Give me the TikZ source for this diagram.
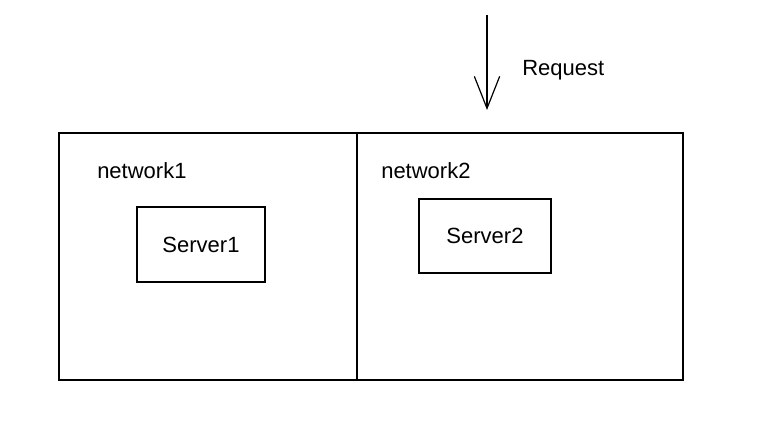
\documentclass[tikz,border=0pt]{standalone}
\usepackage{fontspec}
\setmainfont{Liberation Sans}
\usetikzlibrary{positioning,arrows.meta}

\begin{document}
\begin{tikzpicture}[x=0.75pt, y=-0.75pt, font=\fontsize{16.5}{19}\selectfont,
  box/.style={draw, line width=0.9pt, inner sep=0pt},
  lbl/.style={anchor=west, inner sep=0pt},
  sig/.style={-{Straight Barb[length=24pt, width=19pt, line width=0.9pt]}, line width=0.9pt}]
\useasboundingbox (0,0) rectangle (771,431);
\node[box, minimum width=223.5pt, minimum height=185.25pt] (net1) at (208,256.5) {};
\node[box, minimum width=244.5pt, minimum height=185.25pt] (net2) at (520,256.5) {};
\node[box, minimum width=96pt, minimum height=56.25pt] (srv1) at (201,244.5) {Server1};
\node[box, minimum width=99pt, minimum height=55.5pt] (srv2) at (485,236) {Server2};
\node[lbl] (net1lbl) at (97,171) {network1};
\node[lbl] (net2lbl) at (381,171) {network2};
\coordinate (reqtop) at (487,15);
\coordinate (reqend) at (487,110);
\draw[sig] (reqtop) -- (reqend);
\node[lbl] (req) at (522,70) {Request};
\end{tikzpicture}
\end{document}
